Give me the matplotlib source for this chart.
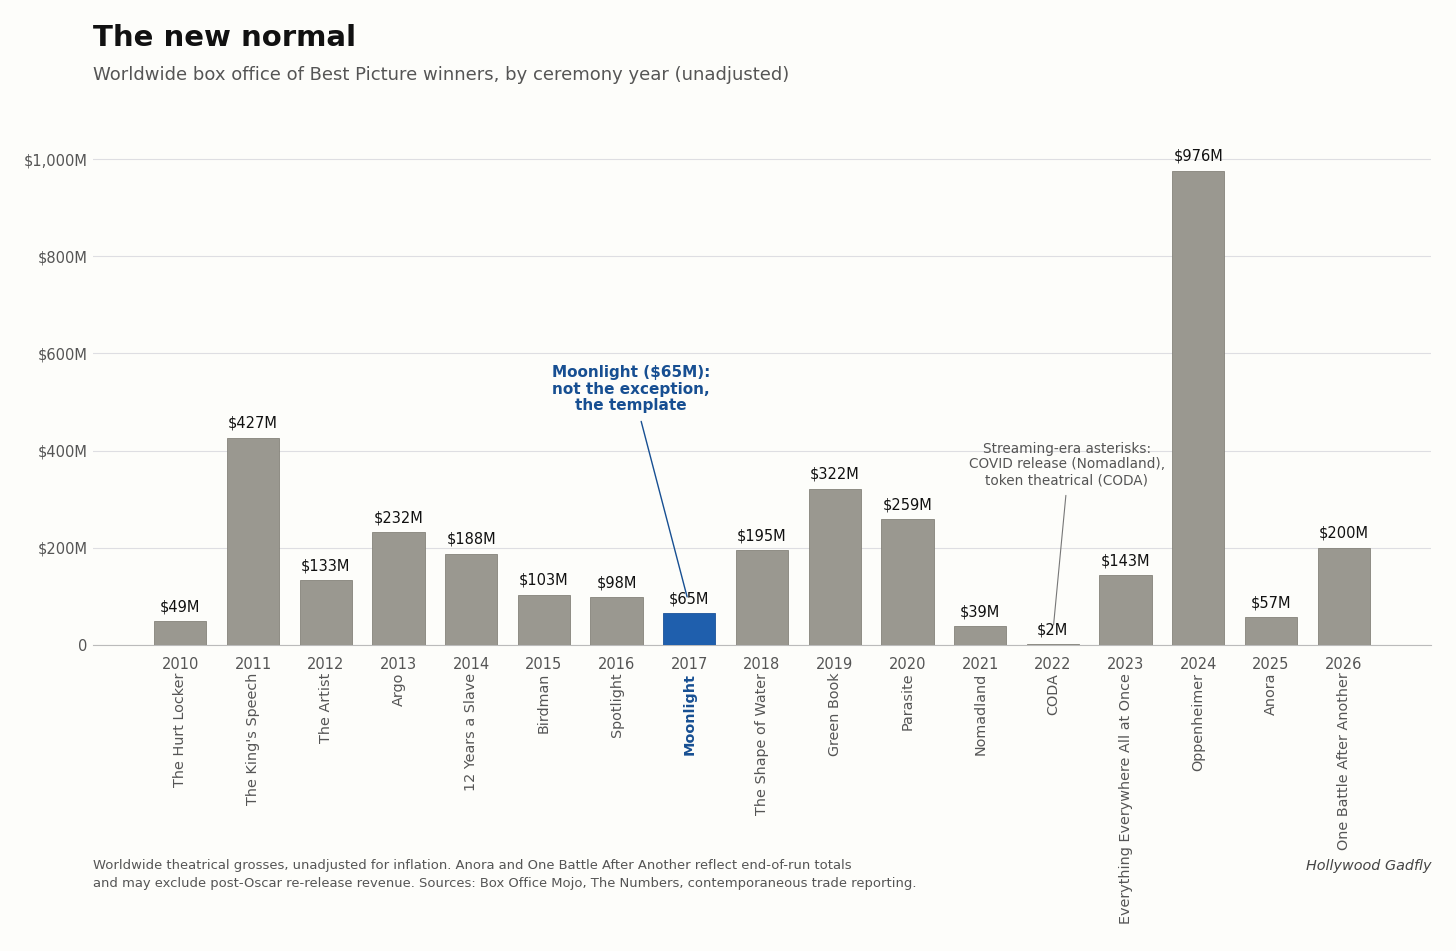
import numpy as np
import matplotlib.pyplot as plt

plt.rcParams['font.family'] = ['DejaVu Sans']

# 데이터
years = ['2010', '2011', '2012', '2013', '2014', '2015', '2016', '2017', '2018',
         '2019', '2020', '2021', '2022', '2023', '2024', '2025', '2026']
films = ['The Hurt Locker', "The King's Speech", 'The Artist', 'Argo', '12 Years a Slave',
         'Birdman', 'Spotlight', 'Moonlight', 'The Shape of Water', 'Green Book',
         'Parasite', 'Nomadland', 'CODA', 'Everything Everywhere All at Once',
         'Oppenheimer', 'Anora', 'One Battle After Another']
gross = [49, 427, 133, 232, 188, 103, 98, 65, 195, 322, 259, 39, 2, 143, 976, 57, 200]
yticks = [0, 200, 400, 600, 800, 1000]
ytick_labels = ['0', '$200M', '$400M', '$600M', '$800M', '$1,000M']
highlight = 'Moonlight'

bg = '#fdfdfa'
bar_gray = '#9a9890'
blue = '#1f5fad'
blue_text = '#174f92'
gray_text = '#555555'

fig = plt.figure(figsize=(14.56, 9.51), dpi=100, facecolor=bg)
ax = fig.add_axes([0.0639, 0.3218, 0.9189, 0.5415], facecolor=bg)

x = np.arange(len(years))
colors = [blue if f == highlight else bar_gray for f in films]
edges = ['#1b539a' if f == highlight else '#85837b' for f in films]
ax.bar(x, gross, width=0.72, color=colors, edgecolor=edges, linewidth=0.6, zorder=3)

for i, v in enumerate(gross):
    ax.annotate(f'${v}M', xy=(i, v), xytext=(0, 5), textcoords='offset points',
                ha='center', va='bottom', fontsize=10.5, color='#111111', zorder=4)

ax.set_xlim(-1.2, 16 + 1.2)
ax.set_ylim(0, 1060)
ax.set_yticks(yticks)
ax.set_yticklabels(ytick_labels, fontsize=10.5, color=gray_text)
ax.set_xticks(x)
ax.set_xticklabels(years, fontsize=10.5, color=gray_text)
ax.tick_params(axis='y', length=0, pad=4)
ax.tick_params(axis='x', length=0, pad=9)
ax.grid(axis='y', color='#dedee2', linewidth=0.8, zorder=0)
for s in ['top', 'right', 'left']:
    ax.spines[s].set_visible(False)
ax.spines['bottom'].set_color('#bbbbbb')
ax.spines['bottom'].set_linewidth(0.8)

# 영화 제목 (세로)
for i, f in enumerate(films):
    hl = f == highlight
    ax.annotate(f, xy=(i, 0), xycoords=('data', 'axes fraction'),
                xytext=(0, -20), textcoords='offset points',
                rotation=90, ha='center', va='top', fontsize=10.4,
                color=blue_text if hl else gray_text,
                fontweight='bold' if hl else 'normal')

# 주석
ax.annotate('Moonlight ($65M):\nnot the exception,\nthe template',
            xy=(6.97, 99), xytext=(6.2, 477), ha='center', va='bottom',
            fontsize=11, fontweight='bold', color=blue_text, linespacing=1.12,
            arrowprops=dict(arrowstyle='-', color=blue_text, lw=1.0,
                            relpos=(0.55, 0), shrinkA=4, shrinkB=0), zorder=5)

ax.annotate('Streaming-era asterisks:\nCOVID release (Nomadland),\ntoken theatrical (CODA)',
            xy=(12.01, 41), xytext=(12.19, 325), ha='center', va='bottom',
            fontsize=9.8, color=gray_text, linespacing=1.15,
            arrowprops=dict(arrowstyle='-', color='#777777', lw=0.8,
                            relpos=(0.5, 0), shrinkA=4, shrinkB=0), zorder=5)

# 제목
fig.text(93 / 1456, 1 - 38 / 951, 'The new normal', fontsize=21, fontweight='bold',
         color='#111111', ha='left', va='center')
fig.text(93 / 1456, 1 - 75 / 951,
         'Worldwide box office of Best Picture winners, by ceremony year (unadjusted)',
         fontsize=13, color=gray_text, ha='left', va='center')

fig.text(93 / 1456, 1 - 866 / 951,
         'Worldwide theatrical grosses, unadjusted for inflation. Anora and One Battle After Another reflect end-of-run totals',
         fontsize=9.45, color=gray_text, ha='left', va='center')
fig.text(93 / 1456, 1 - 884 / 951,
         'and may exclude post-Oscar re-release revenue. Sources: Box Office Mojo, The Numbers, contemporaneous trade reporting.',
         fontsize=9.45, color=gray_text, ha='left', va='center')
fig.text(1431 / 1456, 1 - 866 / 951, 'Hollywood Gadfly', fontsize=10.4, fontstyle='italic',
         color='#444444', ha='right', va='center')

fig.savefig('out.png', dpi=100, facecolor=bg)
